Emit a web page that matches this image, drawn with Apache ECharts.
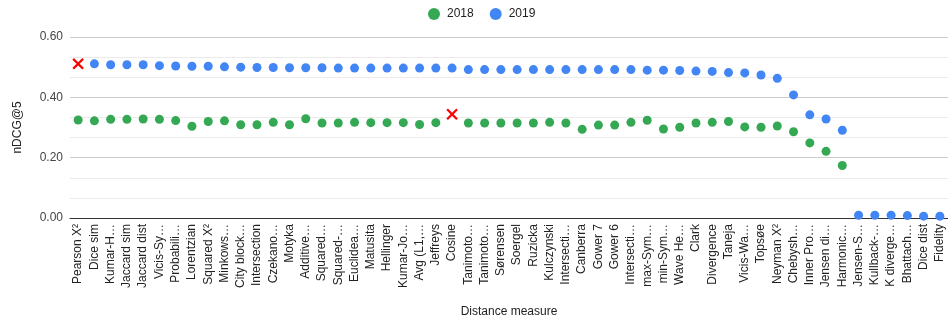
<!DOCTYPE html>
<html><head><meta charset="utf-8">
<script src="https://cdn.jsdelivr.net/npm/echarts@6/dist/echarts.min.js"></script>
<style>html,body{margin:0;padding:0;background:#fff}#c{width:948px;height:323px}</style>
</head><body><div id="c"></div>
<script>
const categories = ["Pearson X²","Dice sim","Kumar-H…","Jaccard sim","Jaccard dist","Vicis-Sy…","Probabili…","Lorentzian","Squared X²","Minkows…","City block…","Intersection","Czekano…","Motyka","Additive…","Squared…","Squared-…","Euclidea…","Matusita","Hellinger","Kumar-Jo…","Avg (L1,…","Jeffreys","Cosine","Tanimoto…","Tanimoto…","Sørensen","Soergel","Ruzicka","Kulczynski","Intersecti…","Canberra","Gower 7","Gower 6","Intersecti…","max-Sym…","min-Sym…","Wave He…","Clark","Divergence","Taneja","Vicis-Wa…","Topsøe","Neyman X²","Chebysh…","Inner Pro…","Jensen di…","Harmonic…","Jensen-S…","Kullback-…","K diverge…","Bhattach…","Dice dist","Fidelity"];
const values2018 = [0.325,0.322,0.327,0.327,0.328,0.327,0.323,0.304,0.320,0.322,0.309,0.309,0.317,0.309,0.329,0.315,0.315,0.317,0.316,0.316,0.316,0.310,0.316,0.344,0.315,0.315,0.315,0.315,0.315,0.317,0.315,0.294,0.308,0.308,0.317,0.324,0.295,0.301,0.315,0.317,0.320,0.302,0.301,0.305,0.286,0.249,0.221,0.174,null,null,null,null,null,null];
const values2019 = [0.511,0.511,0.508,0.508,0.508,0.505,0.504,0.503,0.503,0.501,0.500,0.499,0.499,0.498,0.498,0.498,0.497,0.497,0.497,0.497,0.497,0.497,0.497,0.497,0.492,0.492,0.492,0.492,0.492,0.492,0.492,0.492,0.492,0.492,0.492,0.490,0.490,0.489,0.487,0.486,0.482,0.481,0.474,0.463,0.408,0.342,0.328,0.291,0.009,0.009,0.009,0.008,0.006,0.006];
const yTicks = [0, 0.2, 0.4, 0.6];
const highlight2018 = [23];
const highlight2019 = [0];

const crossPath = 'path://M4.2,0H5.8V4.2H10V5.8H5.8V10H4.2V5.8H0V4.2H4.2Z';
function build(vals, hl) {
  return vals.map((v, i) => hl.includes(i) ? {
    value: v, symbol: crossPath, symbolRotate: 45, symbolSize: 14,
    itemStyle: { color: '#ff0000', opacity: 1 }
  } : v);
}
const chart = echarts.init(document.getElementById('c'), null, {renderer: 'canvas'});
chart.setOption({
  animation: false,
  textStyle: { fontFamily: 'Liberation Sans, Arial, sans-serif' },
  legend: {
    top: 3, left: 423, icon: 'circle', itemWidth: 12, itemHeight: 12, itemGap: 16,
    textStyle: { fontSize: 12, color: '#222', padding: [0, 0, 0, 2] },
    data: ['2018', '2019']
  },
  grid: { left: 70, top: 37, width: 880, height: 182 },
  xAxis: {
    type: 'category', data: categories, boundaryGap: true,
    name: 'Distance measure', nameLocation: 'middle', nameGap: 88,
    nameTextStyle: { fontSize: 12, color: '#222' },
    axisLine: { lineStyle: { color: '#333', width: 1 } },
    axisTick: { alignWithLabel: true, inside: true, length: 5, lineStyle: { color: '#333' } },
    axisLabel: { rotate: 90, interval: 0, fontSize: 12, color: '#222', margin: 6 }
  },
  yAxis: {
    type: 'value', min: yTicks[0], max: yTicks[yTicks.length - 1], interval: 0.2,
    name: 'nDCG@5', nameLocation: 'middle', nameGap: 46,
    nameTextStyle: { fontSize: 12, color: '#222' },
    axisLine: { show: false }, axisTick: { show: false },
    axisLabel: { fontSize: 12, color: '#444', margin: 7, formatter: v => v.toFixed(2) },
    splitLine: { lineStyle: { color: '#cccccc' } },
    minorTick: { show: false, splitNumber: 3 },
    minorSplitLine: { show: true, lineStyle: { color: '#ebebeb' } }
  },
  series: [
    { name: '2018', type: 'scatter', symbol: 'circle', symbolSize: 9,
      itemStyle: { color: '#34a853', opacity: 1 }, data: build(values2018, highlight2018) },
    { name: '2019', type: 'scatter', symbol: 'circle', symbolSize: 9,
      itemStyle: { color: '#4285f4', opacity: 1 }, data: build(values2019, highlight2019) }
  ]
});
</script></body></html>
